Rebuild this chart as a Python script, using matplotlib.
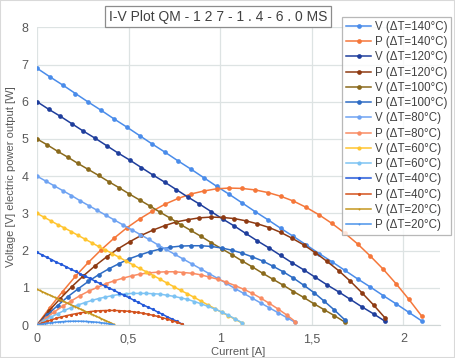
import matplotlib
matplotlib.use("Agg")
import matplotlib.pyplot as plt
from matplotlib.patches import Rectangle

plt.rcParams['font.family'] = ['Liberation Sans', 'DejaVu Sans']

# ---- data ----
dT_labels = ["140", "120", "100", "80", "60", "40", "20"]

I_140 = [0, 0.07, 0.14, 0.21, 0.28, 0.35, 0.42, 0.49, 0.56, 0.63, 0.70, 0.77, 0.84, 0.91, 0.98, 1.05,
         1.12, 1.19, 1.26, 1.33, 1.40, 1.47, 1.54, 1.61, 1.68, 1.75, 1.82, 1.89, 1.96, 2.03, 2.10]
V_140 = [6.90, 6.67, 6.45, 6.22, 5.99, 5.77, 5.54, 5.32, 5.09, 4.86, 4.64, 4.41, 4.19, 3.96, 3.73, 3.51,
         3.28, 3.05, 2.83, 2.60, 2.38, 2.15, 1.92, 1.70, 1.47, 1.24, 1.02, 0.79, 0.57, 0.34, 0.11]
P_140 = [0, 0.47, 0.90, 1.31, 1.68, 2.02, 2.33, 2.61, 2.85, 3.06, 3.25, 3.40, 3.52, 3.60, 3.66, 3.68,
         3.67, 3.63, 3.56, 3.46, 3.33, 3.16, 2.96, 2.73, 2.47, 2.18, 1.85, 1.50, 1.11, 0.69, 0.24]

I_120 = [0, 0.063, 0.127, 0.19, 0.253, 0.317, 0.38, 0.443, 0.507, 0.57, 0.633, 0.697, 0.76, 0.823, 0.887, 0.95,
         1.013, 1.077, 1.14, 1.203, 1.267, 1.33, 1.393, 1.457, 1.52, 1.583, 1.647, 1.71, 1.773, 1.837, 1.9]
V_120 = [6.00, 5.80, 5.61, 5.41, 5.21, 5.02, 4.82, 4.62, 4.43, 4.23, 4.03, 3.84, 3.64, 3.44, 3.25, 3.05,
         2.85, 2.66, 2.46, 2.26, 2.07, 1.87, 1.67, 1.48, 1.28, 1.08, 0.89, 0.69, 0.49, 0.30, 0.10]
P_120 = [0, 0.37, 0.71, 1.03, 1.32, 1.59, 1.83, 2.05, 2.24, 2.41, 2.55, 2.67, 2.77, 2.83, 2.88, 2.90,
         2.89, 2.86, 2.80, 2.72, 2.62, 2.49, 2.33, 2.15, 1.94, 1.71, 1.46, 1.18, 0.87, 0.54, 0.19]

I_100 = [0, 0.056, 0.112, 0.168, 0.224, 0.28, 0.336, 0.392, 0.448, 0.504, 0.56, 0.616, 0.672, 0.728, 0.784, 0.84,
         0.896, 0.952, 1.008, 1.064, 1.12, 1.176, 1.232, 1.288, 1.344, 1.4, 1.456, 1.512, 1.568, 1.624, 1.68]
V_100 = [5.00, 4.84, 4.67, 4.51, 4.34, 4.18, 4.02, 3.85, 3.69, 3.52, 3.36, 3.20, 3.03, 2.87, 2.70, 2.54,
         2.38, 2.21, 2.05, 1.89, 1.72, 1.56, 1.39, 1.23, 1.07, 0.90, 0.74, 0.57, 0.41, 0.25, 0.08]
P_100 = [0, 0.27, 0.52, 0.76, 0.97, 1.17, 1.35, 1.51, 1.65, 1.78, 1.88, 1.97, 2.04, 2.09, 2.12, 2.13,
         2.13, 2.11, 2.07, 2.01, 1.93, 1.83, 1.72, 1.58, 1.43, 1.26, 1.07, 0.87, 0.64, 0.40, 0.14]

I_80 = [0, 0.047, 0.094, 0.141, 0.188, 0.235, 0.282, 0.329, 0.376, 0.423, 0.47, 0.517, 0.564, 0.611, 0.658, 0.705,
        0.752, 0.799, 0.846, 0.893, 0.94, 0.987, 1.034, 1.081, 1.128, 1.175, 1.222, 1.269, 1.316, 1.363, 1.41]
V_80 = [4.00, 3.87, 3.74, 3.61, 3.48, 3.34, 3.21, 3.08, 2.95, 2.82, 2.69, 2.56, 2.43, 2.30, 2.16, 2.03,
        1.90, 1.77, 1.64, 1.51, 1.38, 1.25, 1.12, 0.98, 0.85, 0.72, 0.59, 0.46, 0.33, 0.20, 0.07]
P_80 = [0, 0.18, 0.35, 0.51, 0.65, 0.79, 0.91, 1.01, 1.11, 1.19, 1.26, 1.32, 1.37, 1.40, 1.42, 1.43,
        1.43, 1.41, 1.39, 1.35, 1.29, 1.23, 1.15, 1.06, 0.96, 0.85, 0.72, 0.58, 0.43, 0.27, 0.09]

I_60 = [0, 0.037, 0.075, 0.112, 0.149, 0.187, 0.224, 0.261, 0.299, 0.336, 0.373, 0.411, 0.448, 0.485, 0.523, 0.56,
        0.597, 0.635, 0.672, 0.709, 0.747, 0.784, 0.821, 0.859, 0.896, 0.933, 0.971, 1.008, 1.045, 1.083, 1.12]
V_60 = [3.00, 2.90, 2.80, 2.70, 2.61, 2.51, 2.41, 2.31, 2.21, 2.11, 2.02, 1.92, 1.82, 1.72, 1.62, 1.52,
        1.43, 1.33, 1.23, 1.13, 1.03, 0.93, 0.84, 0.74, 0.64, 0.54, 0.44, 0.34, 0.25, 0.15, 0.05]
P_60 = [0, 0.11, 0.21, 0.30, 0.39, 0.47, 0.54, 0.60, 0.66, 0.71, 0.75, 0.79, 0.82, 0.84, 0.85, 0.85,
        0.85, 0.84, 0.83, 0.80, 0.77, 0.73, 0.69, 0.63, 0.57, 0.50, 0.43, 0.35, 0.26, 0.16, 0.06]

I_40 = [0, 0.026, 0.053, 0.079, 0.105, 0.132, 0.158, 0.184, 0.211, 0.237, 0.263, 0.29, 0.316, 0.342, 0.369, 0.395,
        0.421, 0.448, 0.474, 0.5, 0.527, 0.553, 0.579, 0.606, 0.632, 0.658, 0.685, 0.711, 0.737, 0.764, 0.79]
V_40 = [1.95, 1.89, 1.82, 1.76, 1.69, 1.63, 1.57, 1.50, 1.44, 1.37, 1.31, 1.25, 1.18, 1.12, 1.05, 0.99,
        0.93, 0.86, 0.80, 0.74, 0.67, 0.61, 0.54, 0.48, 0.42, 0.35, 0.29, 0.22, 0.16, 0.10, 0.03]
P_40 = [0, 0.050, 0.096, 0.139, 0.178, 0.215, 0.247, 0.277, 0.303, 0.326, 0.345, 0.361, 0.374, 0.383, 0.389, 0.391,
        0.391, 0.386, 0.379, 0.368, 0.354, 0.336, 0.315, 0.290, 0.263, 0.231, 0.197, 0.159, 0.118, 0.073, 0.025]

I_20 = [0, 0.014, 0.028, 0.042, 0.056, 0.07, 0.084, 0.098, 0.112, 0.126, 0.14, 0.154, 0.168, 0.182, 0.196, 0.21,
        0.224, 0.238, 0.252, 0.266, 0.28, 0.294, 0.308, 0.322, 0.336, 0.35, 0.364, 0.378, 0.392, 0.406, 0.42]
V_20 = [0.960, 0.929, 0.897, 0.866, 0.834, 0.803, 0.771, 0.740, 0.708, 0.677, 0.645, 0.614, 0.582, 0.551, 0.519, 0.488,
        0.456, 0.425, 0.393, 0.362, 0.330, 0.299, 0.268, 0.236, 0.205, 0.173, 0.142, 0.110, 0.079, 0.047, 0.016]
P_20 = [0, 0.013, 0.025, 0.036, 0.047, 0.056, 0.065, 0.072, 0.079, 0.085, 0.090, 0.095, 0.098, 0.100, 0.102, 0.102,
        0.102, 0.101, 0.099, 0.096, 0.093, 0.088, 0.082, 0.076, 0.069, 0.061, 0.052, 0.042, 0.031, 0.019, 0.007]

x_ticks = [0, 0.5, 1, 1.5, 2]
x_tick_labels = ["0", "0,5", "1", "1,5", "2"]
y_ticks = [0, 1, 2, 3, 4, 5, 6, 7, 8]

title_text = "I-V Plot QM - 1 2 7 - 1 . 4 - 6 . 0 MS"

# ---- styling ----
series = [
    ("V", "140", I_140, V_140, "#4A8CEA", 3.4),
    ("P", "140", I_140, P_140, "#F5773A", 3.4),
    ("V", "120", I_120, V_120, "#1F3E9C", 3.4),
    ("P", "120", I_120, P_120, "#8E3A12", 3.4),
    ("V", "100", I_100, V_100, "#8A6A1C", 3.4),
    ("P", "100", I_100, P_100, "#2E6CC4", 3.4),
    ("V", "80", I_80, V_80, "#6FA3F2", 3.2),
    ("P", "80", I_80, P_80, "#F98C63", 3.2),
    ("V", "60", I_60, V_60, "#FFC530", 3.0),
    ("P", "60", I_60, P_60, "#7DC3F3", 3.0),
    ("V", "40", I_40, V_40, "#2459D9", 2.3),
    ("P", "40", I_40, P_40, "#D3521D", 2.3),
    ("V", "20", I_20, V_20, "#C5971F", 1.4),
    ("P", "20", I_20, P_20, "#4B93EA", 1.4),
]

fig = plt.figure(figsize=(4.55, 3.58), dpi=100)
ax = fig.add_axes([37/455, 1 - 325/358, (440 - 37)/455, (325 - 27.3)/358])

for kind, dt, xs, ys, col, ms in series:
    ax.plot(xs, ys, color=col, lw=1.1, marker="o", ms=ms, mew=0,
            label=f"{kind} (\u0394T={dt}\u00b0C)")

ax.set_xlim(0, 2.2)
ax.set_ylim(0, 8)
ax.set_xticks(x_ticks)
ax.set_xticklabels(x_tick_labels)
ax.set_yticks(y_ticks)
ax.grid(True, color="#DDE3E3", lw=0.9)
ax.set_axisbelow(True)
for s in ["top", "right", "left"]:
    ax.spines[s].set_visible(False)
ax.spines["bottom"].set_color("#D0D6D6")
ax.tick_params(length=0, labelsize=9, colors="#595959", pad=6)
ax.set_xlabel("Current [A]", fontsize=8, color="#595959", labelpad=1)
ax.set_ylabel("Voltage [V] electric power output [W]", fontsize=8, color="#595959", labelpad=4)

leg = ax.legend(loc="upper left", bbox_to_anchor=((342 - 37)/403, 1 + (27.3 - 17)/297.7),
                fontsize=8.3, frameon=True, fancybox=False, handlelength=2.2,
                handletextpad=0.3, labelspacing=0.28, borderpad=0.35, borderaxespad=0)
leg.get_frame().set_edgecolor("#A6A6A6")
leg.get_frame().set_linewidth(0.9)
for t in leg.get_texts():
    t.set_color("#404040")

fig.text(218/455, 1 - 16.5/358, title_text, ha="center", va="center", fontsize=10, color="#404040",
         bbox=dict(boxstyle="square,pad=0.25", fc="white", ec="#8C8C8C", lw=0.9))

fig.patches.append(Rectangle((0, 0), 1, 1, transform=fig.transFigure, fill=False,
                             ec="#D9D9D9", lw=1.5))

fig.savefig("out.png", dpi=100)
